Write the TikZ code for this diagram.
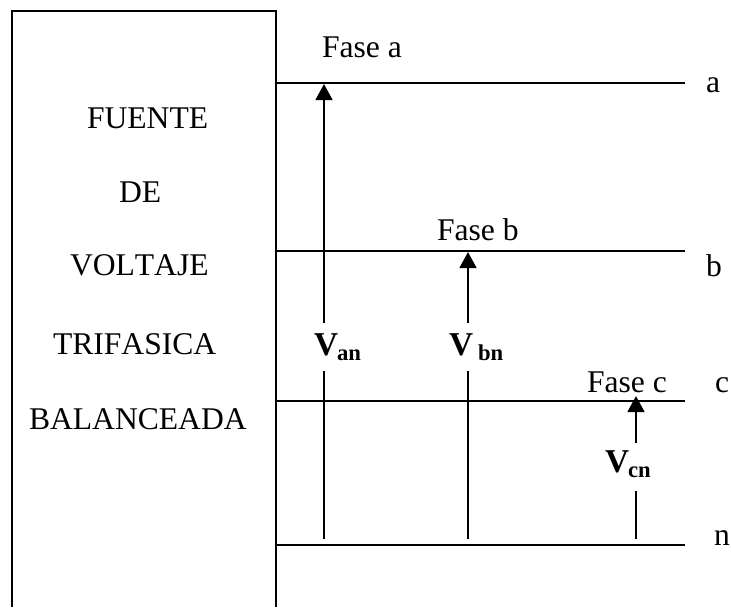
\documentclass[tikz,border=0pt]{standalone}
\usepackage{fontspec}
\setmainfont[Kerning=Off]{Liberation Serif}
\usetikzlibrary{arrows.meta}
\tikzset{
  wire/.style={line width=1.35pt,black},
  lowseg/.style={line width=1.35pt,black},
  vecarrow/.style={line width=2pt,black,-{Triangle[width=12.5pt,length=12pt]}},
  txt/.style={anchor=base west,inner sep=0pt,outer sep=0pt,font=\fontsize{23.7}{26}\selectfont},
  vlab/.style={anchor=base west,inner sep=0pt,outer sep=0pt,font=\fontsize{25}{26}\selectfont\bfseries},
  vsub/.style={anchor=base west,inner sep=0pt,outer sep=0pt,font=\fontsize{17}{20}\selectfont\bfseries}
}
\begin{document}
\begin{tikzpicture}[x=0.75pt,y=-0.75pt]
\useasboundingbox (0,0) rectangle (731,607);
% source box (open at the bottom)
\coordinate (bl) at (12,607);
\coordinate (tl) at (12,11);
\coordinate (tr) at (276,11);
\coordinate (br) at (276,607);
\draw[wire,line join=miter] (bl) -- (tl) -- (tr) -- (br);
% box text
\node[txt] (t1) at (87,128) {FUENTE};
\node[txt] (t2) at (119,202) {DE};
\node[txt] (t3) at (70,275) {VOLTAJE};
\node[txt] (t4) at (53,354) {TRIFASICA};
\node[txt] (t5) at (29,429) {BALANCEADA};
% phase lines
\coordinate (a0) at (276,83);  \coordinate (a1) at (685,83);
\coordinate (b0) at (276,251); \coordinate (b1) at (685,251);
\coordinate (c0) at (276,401); \coordinate (c1) at (685,401);
\coordinate (n0) at (276,545); \coordinate (n1) at (685,545);
\draw[wire] (a0) -- (a1);
\draw[wire] (b0) -- (b1);
\draw[wire] (c0) -- (c1);
\draw[wire] (n0) -- (n1);
% line labels
\node[txt] (la) at (706,92) {a};
\node[txt] (lb) at (706,276) {b};
\node[txt] (lc) at (715,392) {c};
\node[txt] (ln) at (714,545) {n};
\node[txt] (fa) at (322,57) {Fase a};
\node[txt] (fb) at (437,240) {Fase b};
\node[txt] (fc) at (587,392) {Fase c};
% voltage arrows
\coordinate (van1) at (324,323); \coordinate (van2) at (324,84);
\coordinate (van3) at (324,371); \coordinate (van4) at (324,539);
\coordinate (vbn1) at (468,323); \coordinate (vbn2) at (468,252);
\coordinate (vbn3) at (468,371); \coordinate (vbn4) at (468,539);
\coordinate (vcn1) at (636,443); \coordinate (vcn2) at (636,396);
\coordinate (vcn3) at (636,491); \coordinate (vcn4) at (636,539);
\draw[vecarrow] (van1) -- (van2);
\draw[vecarrow] (vbn1) -- (vbn2);
\draw[vecarrow] (vcn1) -- (vcn2);
\draw[lowseg] (van3) -- (van4);
\draw[lowseg] (vbn3) -- (vbn4);
\draw[lowseg] (vcn3) -- (vcn4);
% voltage labels
\node[vlab] (v1) at (314,355) {V};
\node[vsub] (s1) at (337,360) {an};
\node[vlab] (v2) at (449,355) {V};
\node[vsub] (s2) at (478,360) {bn};
\node[vlab] (v3) at (605,472) {V};
\node[vsub] (s3) at (628,477) {cn};
\end{tikzpicture}
\end{document}
